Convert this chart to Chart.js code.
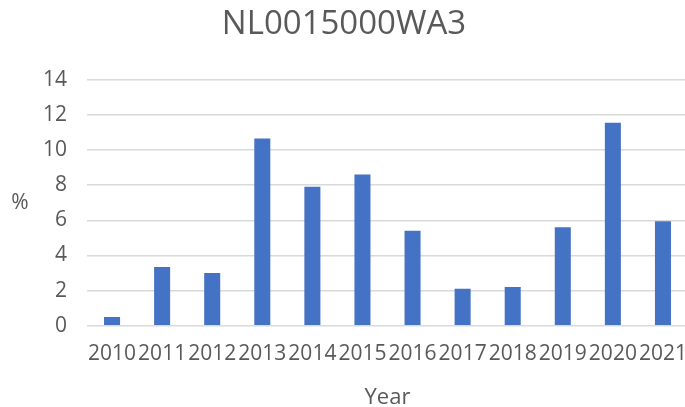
<!DOCTYPE html>
<html>
<head>
<meta charset="utf-8">
<script src="https://cdn.jsdelivr.net/npm/chart.js@4"></script>
<style>
  html, body { margin: 0; padding: 0; background: #fff; overflow: hidden; }
  #wrap { width: 690px; height: 407px; position: relative; }
</style>
</head>
<body>
<div id="wrap"><canvas id="chartReturn"></canvas></div>
<script>
// chart data
const years = ['2010', '2011', '2012', '2013', '2014', '2015', '2016', '2017', '2018', '2019', '2020', '2021'];
const returns = [0.5, 3.35, 3.0, 10.65, 7.9, 8.6, 5.4, 2.1, 2.2, 5.6, 11.55, 5.95];
const yTicks = [0, 2, 4, 6, 8, 10, 12, 14];

const textColor = '#595959';
const fontFamily = '"Open Sans", "Liberation Sans", sans-serif';

// draws the "%" label flat, like Excel does
const flatYTitle = {
  id: 'flatYTitle',
  afterDraw(chart) {
    const ctx = chart.ctx;
    const area = chart.chartArea;
    ctx.save();
    ctx.fillStyle = textColor;
    ctx.font = '21px ' + fontFamily;
    ctx.textAlign = 'center';
    ctx.textBaseline = 'middle';
    ctx.fillText('%', 20, (area.top + area.bottom) / 2);
    ctx.restore();
  }
};

new Chart(document.getElementById('chartReturn'), {
  type: 'bar',
  data: {
    labels: years,
    datasets: [{
      label: '%',
      data: returns,
      backgroundColor: '#4472C4',
      borderWidth: 0,
      categoryPercentage: 1,
      barPercentage: 0.32
    }]
  },
  options: {
    responsive: true,
    maintainAspectRatio: false,
    animation: false,
    layout: { padding: { top: 5, left: 0, right: 2, bottom: -2 } },
    plugins: {
      legend: { display: false },
      tooltip: { enabled: false },
      title: {
        display: true,
        text: 'NL0015000WA3',
        color: textColor,
        font: { family: fontFamily, size: 33, weight: 'normal' },
        padding: { top: 0, bottom: 35 }
      }
    },
    scales: {
      x: {
        // invisible tick marks give the gap under the plot (ticks.padding would also pad the sides)
        grid: { display: true, drawOnChartArea: false, drawTicks: true, tickLength: 16, color: 'rgba(0,0,0,0)' },
        border: { display: false },
        ticks: {
          color: textColor,
          font: { family: fontFamily, size: 21 },
          autoSkip: false,
          maxRotation: 0,
          minRotation: 0,
          padding: 0
        },
        title: {
          display: true,
          text: 'Year',
          color: textColor,
          font: { family: fontFamily, size: 22, lineHeight: 1 },
          padding: { top: 20, bottom: 0 }
        }
      },
      y: {
        min: 0,
        max: 14,
        afterBuildTicks(scale) {
          scale.ticks = yTicks.map(v => ({ value: v }));
        },
        afterFit(scale) {
          scale.width = 87;
        },
        grid: { color: '#D9D9D9', lineWidth: 1.5, drawTicks: false },
        border: { display: false },
        ticks: {
          color: textColor,
          font: { family: fontFamily, size: 21 },
          padding: 20
        }
      }
    }
  },
  plugins: [flatYTitle]
});
</script>
</body>
</html>
